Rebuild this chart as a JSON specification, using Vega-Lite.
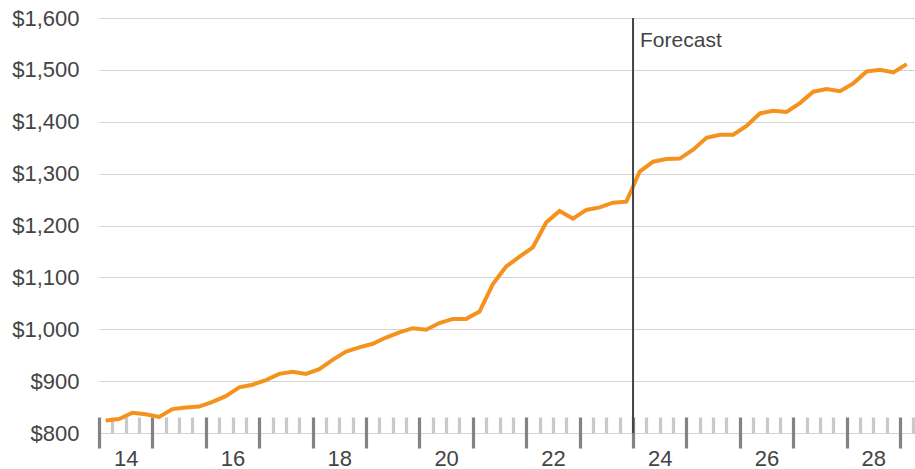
{
  "$schema": "https://vega.github.io/schema/vega-lite/v6.json",
  "autosize": "none",
  "width": 816,
  "height": 415,
  "padding": {"left": 99, "top": 18, "right": 0, "bottom": 36},
  "background": "white",
  "config": {
    "view": {"stroke": null},
    "font": "Liberation Sans",
    "axis": {"labelFont": "Liberation Sans", "labelFontSize": 22, "labelColor": "#444444", "title": null}
  },
  "datasets": {
    "series": [
      {"t": 2014.125, "v": 824}, {"t": 2014.375, "v": 827}, {"t": 2014.625, "v": 839}, {"t": 2014.875, "v": 836},
      {"t": 2015.125, "v": 831}, {"t": 2015.375, "v": 846}, {"t": 2015.625, "v": 849}, {"t": 2015.875, "v": 851},
      {"t": 2016.125, "v": 860}, {"t": 2016.375, "v": 871}, {"t": 2016.625, "v": 888}, {"t": 2016.875, "v": 893},
      {"t": 2017.125, "v": 902}, {"t": 2017.375, "v": 914}, {"t": 2017.625, "v": 918}, {"t": 2017.875, "v": 914},
      {"t": 2018.125, "v": 923}, {"t": 2018.375, "v": 941}, {"t": 2018.625, "v": 957}, {"t": 2018.875, "v": 965},
      {"t": 2019.125, "v": 972}, {"t": 2019.375, "v": 984}, {"t": 2019.625, "v": 994}, {"t": 2019.875, "v": 1002},
      {"t": 2020.125, "v": 999}, {"t": 2020.375, "v": 1012}, {"t": 2020.625, "v": 1020}, {"t": 2020.875, "v": 1020},
      {"t": 2021.125, "v": 1034}, {"t": 2021.375, "v": 1087}, {"t": 2021.625, "v": 1121}, {"t": 2021.875, "v": 1140},
      {"t": 2022.125, "v": 1158}, {"t": 2022.375, "v": 1206}, {"t": 2022.625, "v": 1228}, {"t": 2022.875, "v": 1213},
      {"t": 2023.125, "v": 1230}, {"t": 2023.375, "v": 1235}, {"t": 2023.625, "v": 1244}, {"t": 2023.875, "v": 1246},
      {"t": 2024.125, "v": 1304}, {"t": 2024.375, "v": 1323}, {"t": 2024.625, "v": 1328}, {"t": 2024.875, "v": 1329},
      {"t": 2025.125, "v": 1346}, {"t": 2025.375, "v": 1369}, {"t": 2025.625, "v": 1375}, {"t": 2025.875, "v": 1375},
      {"t": 2026.125, "v": 1392}, {"t": 2026.375, "v": 1416}, {"t": 2026.625, "v": 1421}, {"t": 2026.875, "v": 1419},
      {"t": 2027.125, "v": 1436}, {"t": 2027.375, "v": 1458}, {"t": 2027.625, "v": 1463}, {"t": 2027.875, "v": 1459},
      {"t": 2028.125, "v": 1474}, {"t": 2028.375, "v": 1497}, {"t": 2028.625, "v": 1500}, {"t": 2028.875, "v": 1495},
      {"t": 2029.125, "v": 1511}
    ],
    "events": [{"t": 2024, "label": "Forecast"}]
  },
  "layer": [
    {
      "data": {"name": "series"},
      "mark": {"type": "line", "color": "#f5921e", "strokeWidth": 4, "strokeJoin": "miter"},
      "encoding": {
        "x": {
          "field": "t", "type": "quantitative",
          "scale": {"domain": [2014, 2029.28], "nice": false, "zero": false},
          "axis": {
            "orient": "bottom", "offset": -16, "domain": false, "grid": false, "labels": false,
            "ticks": true, "tickSize": 16, "tickWidth": 3.2, "tickColor": "#c9c9c9",
            "values": [2014.25, 2014.5, 2014.75, 2015.25, 2015.5, 2015.75, 2016.25, 2016.5, 2016.75, 2017.25, 2017.5, 2017.75, 2018.25, 2018.5, 2018.75, 2019.25, 2019.5, 2019.75, 2020.25, 2020.5, 2020.75, 2021.25, 2021.5, 2021.75, 2022.25, 2022.5, 2022.75, 2023.25, 2023.5, 2023.75, 2024.25, 2024.5, 2024.75, 2025.25, 2025.5, 2025.75, 2026.25, 2026.5, 2026.75, 2027.25, 2027.5, 2027.75, 2028.25, 2028.5, 2028.75, 2029.25]
          }
        },
        "y": {
          "field": "v", "type": "quantitative",
          "scale": {"domain": [800, 1600], "nice": false, "zero": false},
          "axis": {
            "values": [800, 900, 1000, 1100, 1200, 1300, 1400, 1500, 1600],
            "format": "$,.0f", "domain": false, "ticks": false, "labelPadding": 20,
            "grid": true, "gridColor": "#d4d4d4", "gridWidth": 1.2
          }
        }
      }
    },
    {
      "data": {"name": "events"},
      "mark": {"type": "rule", "color": "#444444", "strokeWidth": 2},
      "encoding": {
        "x": {
          "field": "t", "type": "quantitative",
          "axis": {
            "orient": "bottom", "offset": -16, "domain": false, "grid": false, "labels": false,
            "ticks": true, "tickSize": 31, "tickWidth": 3.2, "tickColor": "#838383",
            "values": [2014, 2015, 2016, 2017, 2018, 2019, 2020, 2021, 2022, 2023, 2024, 2025, 2026, 2027, 2028, 2029]
          }
        }
      }
    },
    {
      "data": {"name": "events"},
      "mark": {"type": "text", "align": "left", "baseline": "alphabetic", "dx": 7, "dy": 29, "fontSize": 21, "color": "#444444", "font": "Liberation Sans"},
      "encoding": {
        "x": {
          "field": "t", "type": "quantitative",
          "axis": {
            "orient": "bottom", "domain": false, "grid": false, "ticks": false, "labelPadding": 15,
            "values": [2014.5, 2016.5, 2018.5, 2020.5, 2022.5, 2024.5, 2026.5, 2028.5],
            "labelExpr": "'' + (floor(datum.value) % 100)"
          }
        },
        "y": {"datum": 1600, "type": "quantitative"},
        "text": {"field": "label"}
      }
    }
  ],
  "resolve": {"axis": {"x": "independent"}}
}
